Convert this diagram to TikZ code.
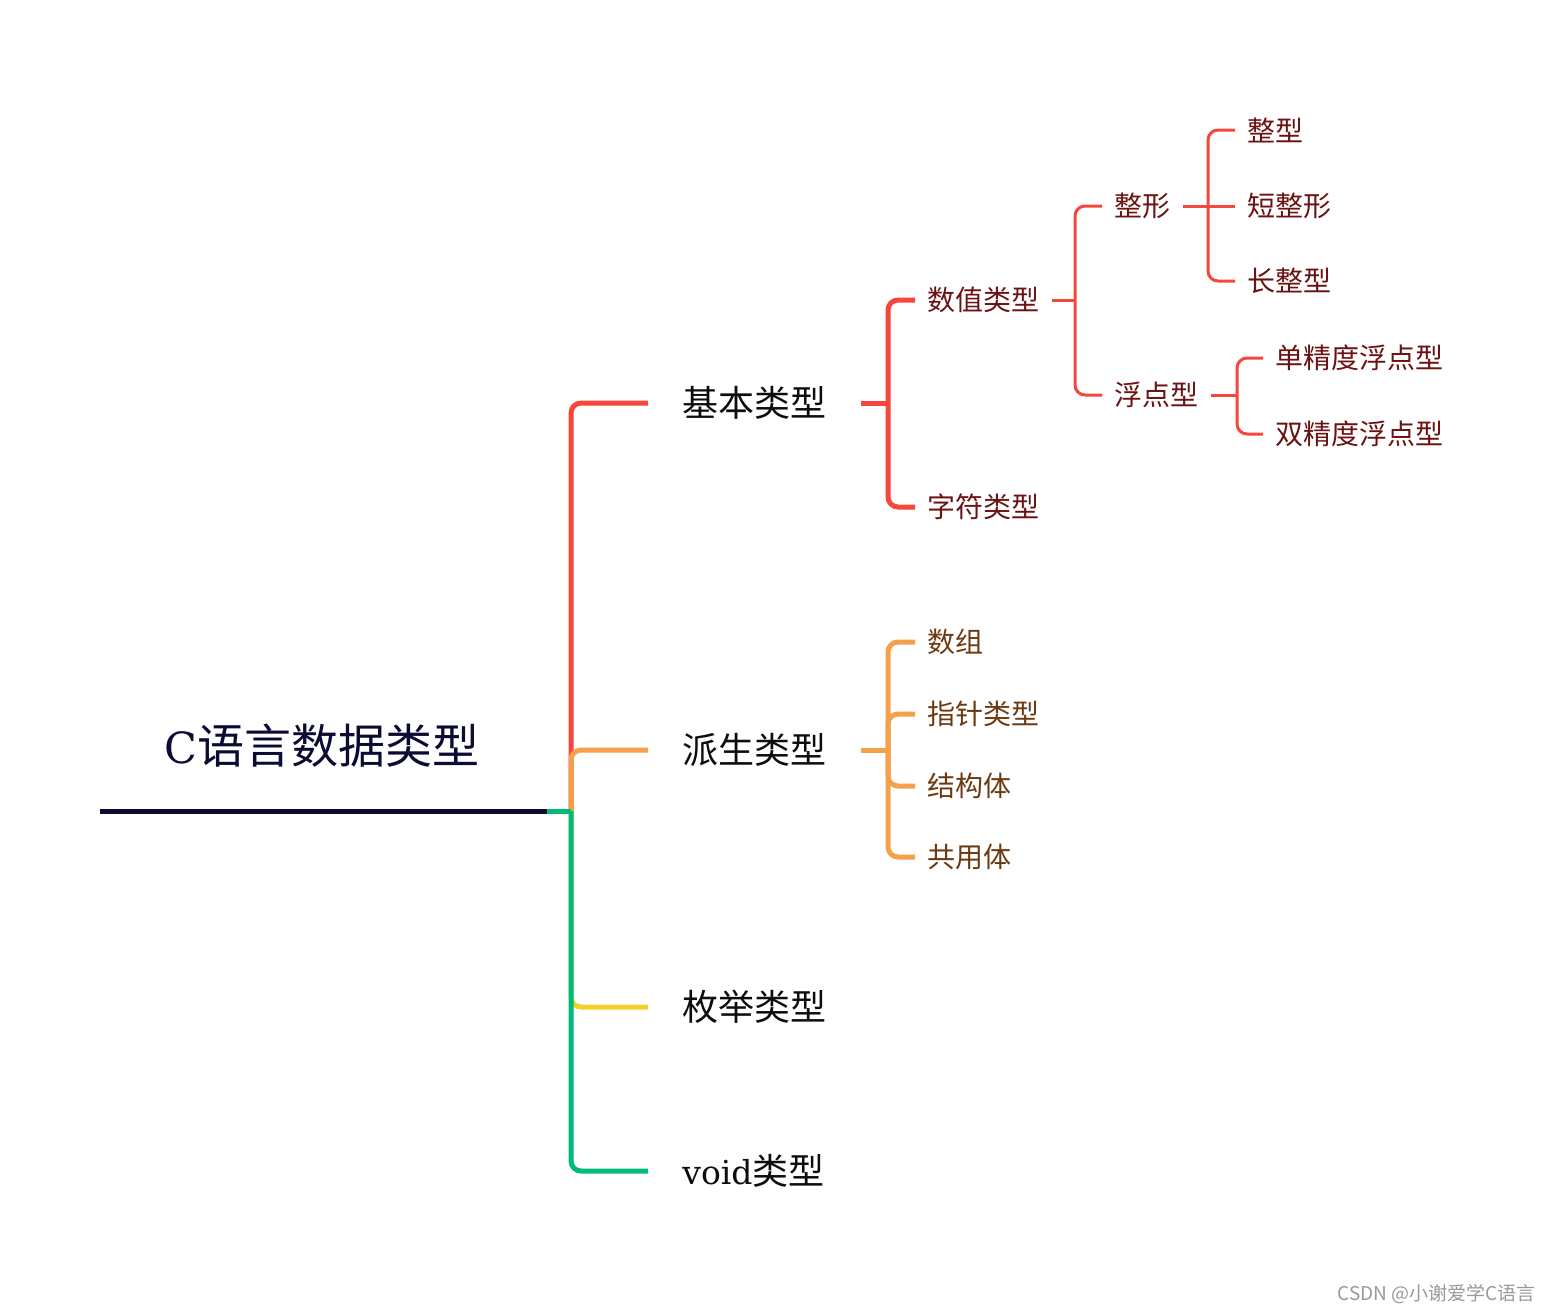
\documentclass[tikz,border=0pt]{standalone}
\usepackage{fontspec}
\usepackage{xcolor}
\usepackage{tikz}
\newfontfamily\cjk{Noto Sans CJK SC}
\newfontfamily\latinserif{DejaVu Serif}
\definecolor{navy}{HTML}{0B0B33}
\definecolor{brred}{HTML}{F5473B}
\definecolor{brorange}{HTML}{F5A04B}
\definecolor{brgreen}{HTML}{00BA78}
\definecolor{bryellow}{HTML}{F2D12B}
\definecolor{txtred}{HTML}{6B1212}
\definecolor{txtbrown}{HTML}{6B3A12}

\begin{document}
\begin{tikzpicture}[x=0.5pt,y=-0.5pt,
    main/.style={anchor=west,inner xsep=17pt,text=black!95,font=\cjk\fontsize{18}{20}\selectfont},
    sub/.style={anchor=west,inner xsep=6pt,font=\cjk\fontsize{14}{16}\selectfont},
    thickline/.style={line width=2.5pt,rounded corners=5pt},
    thinline/.style={line width=1.5pt,rounded corners=5pt}]
    \useasboundingbox (0,0) rectangle (1554,1313);
    \node[font=\cjk\fontsize{23.5}{26}\selectfont,text=navy] (root) at (322,746) {{\latinserif\fontsize{21.5}{26}\selectfont C}语言数据类型};
    \coordinate (r0) at (100,811);
    \coordinate (r1) at (547,811);
    \coordinate (t) at (571,811);
    \coordinate (j1) at (888,403);
    \coordinate (j2) at (1075,300);
    \coordinate (j3) at (1208,206);
    \coordinate (j4) at (1237,395);
    \coordinate (j5) at (888,750);
    \node[main] (jiben) at (648,403) {基本类型};
    \node[main] (paisheng) at (648,750) {派生类型};
    \node[main] (meiju) at (648,1007) {枚举类型};
    \node[main] (void) at (648,1171) {{\latinserif\fontsize{16.5}{20}\selectfont void}类型};
    \node[sub,text=txtred] (shuzhi) at (915,300) {数值类型};
    \node[sub,text=txtred] (zifu) at (915,507) {字符类型};
    \node[sub,text=txtred] (zhengxing) at (1102,206) {整形};
    \node[sub,text=txtred] (fudian) at (1102,395) {浮点型};
    \node[sub,text=txtred] (zx1) at (1235,130) {整型};
    \node[sub,text=txtred] (zx2) at (1235,206) {短整形};
    \node[sub,text=txtred] (zx3) at (1235,281) {长整型};
    \node[sub,text=txtred] (fd1) at (1263,358) {单精度浮点型};
    \node[sub,text=txtred] (fd2) at (1263,434) {双精度浮点型};
    \node[sub,text=txtbrown] (shuzu) at (915,642) {数组};
    \node[sub,text=txtbrown] (zhizhen) at (915,714) {指针类型};
    \node[sub,text=txtbrown] (jiegou) at (915,786) {结构体};
    \node[sub,text=txtbrown] (gongyong) at (915,857) {共用体};
    \node[anchor=east,text=black!40,font=\cjk\fontsize{9.5}{10}\selectfont] (mark) at (1543,1294) {CSDN @小谢爱学C语言};
    \draw[line width=2.5pt,navy] (r0) -- (r1);
    \draw[thickline,brred] (t) |- (jiben.west);
    \draw[thickline,brorange] (t) |- (paisheng.west);
    \draw[thickline,bryellow] (t) |- (meiju.west);
    \draw[thickline,brgreen] (r1) -- (t);
    \draw[thickline,brgreen] (t) |- (void.west);
    \draw[thickline,brred] (jiben.east) -- (j1);
    \draw[thickline,brred] (shuzhi.west) -| (j1) |- (zifu.west);
    \draw[thinline,brred] (shuzhi.east) -- (j2);
    \draw[thinline,brred] (zhengxing.west) -| (j2) |- (fudian.west);
    \draw[thinline,brred] (zhengxing.east) -- (zx2.west);
    \draw[thinline,brred] (zx1.west) -| (j3) |- (zx3.west);
    \draw[thinline,brred] (fudian.east) -- (j4);
    \draw[thinline,brred] (fd1.west) -| (j4) |- (fd2.west);
    \draw[thickline,brorange] (paisheng.east) -- (j5);
    \draw[thickline,brorange] (shuzu.west) -| (j5) |- (gongyong.west);
    \draw[thickline,brorange] (j5) |- (zhizhen.west);
    \draw[thickline,brorange] (j5) |- (jiegou.west);
\end{tikzpicture}
\end{document}
